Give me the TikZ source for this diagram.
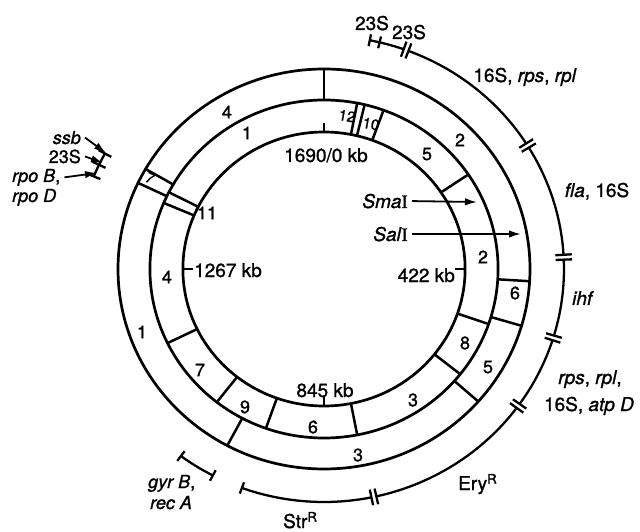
\documentclass[tikz,border=0pt]{standalone}
\usepackage{fontspec}
\setmainfont{TeX Gyre Heros}[FakeBold=1.2]
\newfontfamily\romanI{Liberation Serif}[FakeBold=1.2]
\usetikzlibrary{arrows.meta,positioning}

\tikzset{
  ring/.style={line width=2.7pt},
  cut/.style={line width=2.5pt},
  genearc/.style={line width=2.3pt},
  lbl/.style={font=\fontsize{19}{22}\selectfont, inner sep=0pt},
  stack/.style={font=\fontsize{18}{20}\selectfont, inner sep=0pt},
  num/.style={font=\fontsize{18}{20}\selectfont, inner sep=0pt},
  tiny/.style={font=\fontsize{15}{16}\selectfont, inner sep=0pt},
  pointer/.style={line width=1.8pt, -{Latex[length=12pt,width=7.5pt]}},
}
\newcommand{\gene}[1]{\textit{#1}}
\newcommand{\enz}[1]{\textit{#1}{\romanI I}}

\begin{document}
\begin{tikzpicture}[x=1pt,y=1pt]
  \useasboundingbox (0,0) rectangle (640,531);

  \begin{scope}[shift={(324,262)}, xscale=1.03]
    % the three circles
    \draw[ring] (0,0) circle (137);
    \draw[ring] (0,0) circle (169);
    \draw[ring] (0,0) circle (200);

    % SmaI fragments (inner ring)
    \foreach \a in {79,76.5,70,34,-19,-38.5,-79,-109.5,-128,-154,157,153}
      \draw[cut] (\a:137) -- (\a:169);
    % SalI fragments (outer ring)
    \foreach \a in {90,-3.5,-16.5,-41.5,-118,154.5,150}
      \draw[cut] (\a:169) -- (\a:200);

    % kb ticks
    \draw[cut] (90:137) -- (90:146);
    \draw[cut] (180:137) -- (180:127);
    \draw[cut] (0:137) -- (0:127);
    \draw[cut] (-90:137) -- (-90:127);

    % gene map
    \foreach \s/\e in {79/70.6, 69.4/32.6, 31.4/3.5, 2.3/-16.6, -17.8/-35.4, -36.6/-77.4, -78.6/-110}
      \draw[genearc] (\s:233) arc[start angle=\s, end angle=\e, radius=233];
    \foreach \a in {70,32,2.9,-17.2,-36,-78}
      \draw[genearc] (\a+0.6:225) -- (\a+0.6:241) (\a-0.6:225) -- (\a-0.6:241);
    \foreach \a in {79,76.6,-110,-126.6,-117.6}
      \draw[genearc] (\a:227) -- (\a:239);
    \draw[genearc] (-126.6:233) arc[start angle=-126.6, end angle=-117.6, radius=233];

    \draw[genearc] (151.5:242) arc[start angle=151.5, end angle=157.5, radius=242];
    \foreach \a in {151.5,154.5,157.5}
      \draw[genearc] (\a:235) -- (\a:249);
  \end{scope}

  % SalI numbers
  \node[num] (sal4) at (227,419) {4};
  \node[num] (sal2) at (460,391) {2};
  \node[num] (sal6) at (515,238) {6};
  \node[num] (sal5) at (488,164) {5};
  \node[num] (sal3) at (358,76) {3};
  \node[num] (sal1) at (142,199) {1};
  \node[tiny, rotate=-25] (sal7) at (150,353) {7};

  % SmaI numbers
  \node[num] (sma1) at (247,398) {1};
  \node[tiny, rotate=-10] (sma12) at (347,415) {12};
  \node[tiny, rotate=-10] (sma10) at (371,407) {10};
  \node[num] (sma5) at (427,377) {5};
  \node[num] (sma2) at (483,274) {2};
  \node[num] (sma8) at (465,188) {8};
  \node[num] (sma3) at (413,131) {3};
  \node[num] (sma6) at (313,104) {6};
  \node[num] (sma9) at (245,124) {9};
  \node[num] (sma7) at (200,161) {7};
  \node[num] (sma4) at (167,254) {4};
  \node[num] (sma11) at (207,318) {11};

  % positions
  \node[lbl, anchor=base] (kb0) at (326,369) {1690/0 kb};
  \node[lbl, anchor=base west] (kb1267) at (194,254) {1267 kb};
  \node[lbl, anchor=base east] (kb422) at (455,249) {422 kb};
  \node[lbl, anchor=base] (kb845) at (325,134) {845 kb};

  % enzymes
  \node[lbl, anchor=base east] (sma) at (408,323) {\enz{Sma}};
  \node[lbl, anchor=base east] (sal) at (408,290) {\enz{Sal}};
  \coordinate (smapt) at (477,329);
  \coordinate (salpt) at (521,297);
  \draw[pointer] ([xshift=4pt]sma.east) -- (smapt);
  \draw[pointer] ([xshift=4pt]sal.east) -- (salpt);

  % genes
  \node[lbl, anchor=base] (t23a) at (372,501) {23S};
  \node[lbl, anchor=base] (t23b) at (409,492) {23S};
  \node[lbl, anchor=base] (r16s) at (525,449) {16S, \gene{rps}, \gene{rpl}};
  \node[lbl, anchor=base] (fla) at (597,334) {\gene{fla}, 16S};
  \node[lbl, anchor=base] (ihf) at (583,226) {\gene{ihf}};
  \node[lbl, anchor=base] (rps) at (590,147) {\gene{rps}, \gene{rpl},};
  \node[lbl, anchor=base] (atp) at (589,120) {16S, \gene{atp D}};
  \node[lbl, anchor=base west] (ery) at (458,41) {Ery\textsuperscript{R}};
  \node[lbl, anchor=base west] (str) at (283,3) {Str\textsuperscript{R}};
  \node[stack, anchor=base west] (gyr) at (148,43) {\gene{gyr B},};
  \node[stack, anchor=base west] (rec) at (150,22) {\gene{rec A}};

  \node[stack, anchor=base east] (ssb) at (81,387) {\gene{ssb}};
  \node[stack, anchor=base east] (l23) at (81,368) {23S};
  \node[stack, anchor=base west] (rpob) at (12,349) {\gene{rpo B},};
  \node[stack, anchor=base west] (rpod) at (12,329) {\gene{rpo D}};
  \coordinate (ssbpt) at (106,378);
  \coordinate (l23pt) at (103,368);
  \coordinate (rpobpt) at (97,358);
  \draw[pointer] ([xshift=4pt]ssb.east) -- (ssbpt);
  \draw[pointer] ([xshift=4pt]l23.east) -- (l23pt);
  \draw[pointer] ([xshift=4pt]rpob.east) -- (rpobpt);
\end{tikzpicture}
\end{document}
